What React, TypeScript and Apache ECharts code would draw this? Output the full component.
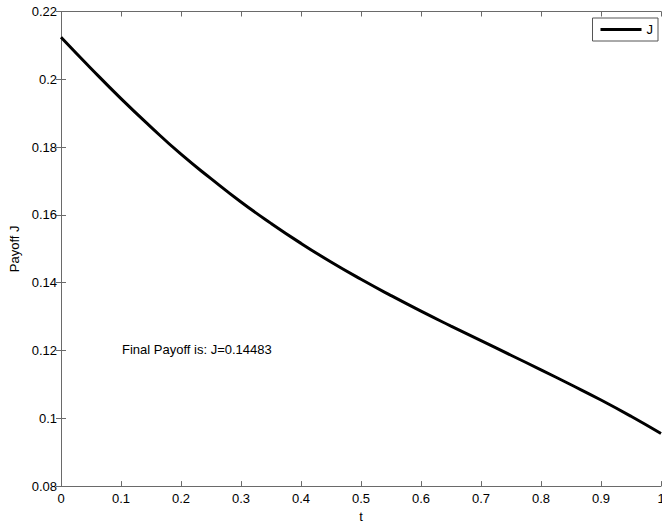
import React, { useEffect, useRef } from "react";
import * as echarts from "echarts";

const tValues = [0, 0.05, 0.1, 0.15, 0.2, 0.25, 0.3, 0.35, 0.4, 0.45, 0.5, 0.55, 0.6, 0.65, 0.7, 0.75, 0.8, 0.85, 0.9, 0.95, 1.0];
const jValues = [0.2124, 0.2032, 0.1943, 0.1859, 0.1779, 0.1707, 0.1638, 0.1575, 0.1516, 0.1461, 0.1410, 0.1362, 0.1316, 0.1272, 0.1229, 0.1186, 0.1143, 0.1099, 0.1054, 0.1006, 0.0955];
const seriesName = "J";
const annotation = "Final Payoff is: J=0.14483";
const xTitle = "t";
const yTitle = "Payoff J";

const FONT = "'Liberation Sans', Arial, Helvetica, sans-serif";
const AXIS = "#6a6a6a";

export default function App() {
  const ref = useRef<HTMLDivElement>(null);
  useEffect(() => {
    if (!ref.current) return;
    const chart = echarts.init(ref.current, null, { renderer: "svg" });
    const data = tValues.map((t, i) => [t, jValues[i]]);
    const commonAxisLine = { show: true, lineStyle: { color: AXIS, width: 1 } };
    const tickInside = { show: true, inside: true, length: 5, lineStyle: { color: AXIS } };
    chart.setOption({
      animation: false,
      backgroundColor: "#ffffff",
      textStyle: { fontFamily: FONT },
      grid: {
        left: 61,
        top: 11.5,
        width: 600,
        height: 474.6,
        containLabel: false,
        outerBoundsMode: "none",
      },
      legend: {
        data: [{ name: seriesName, icon: "rect" }],
        right: 4,
        top: 18,
        orient: "vertical",
        itemWidth: 41,
        itemHeight: 3,
        padding: [5, 5, 5, 8],
        borderColor: "#555",
        borderWidth: 1,
        backgroundColor: "#fff",
        textStyle: { fontFamily: FONT, fontSize: 13, color: "#000", lineHeight: 12 },
      },
      xAxis: [
        {
          type: "value",
          min: 0,
          max: 1,
          interval: 0.1,
          position: "bottom",
          name: xTitle,
          nameLocation: "middle",
          nameGap: 22,
          nameTextStyle: { fontFamily: FONT, fontSize: 13, color: "#000" },
          axisLine: commonAxisLine,
          axisTick: tickInside,
          splitLine: { show: false },
          axisLabel: {
            fontFamily: FONT,
            fontSize: 13,
            color: "#000",
            margin: 6,
            formatter: (v: number) => String(Math.round(v * 10) / 10),
          },
        },
        {
          type: "value",
          min: 0,
          max: 1,
          interval: 0.1,
          position: "top",
          axisLine: commonAxisLine,
          axisTick: tickInside,
          splitLine: { show: false },
          axisLabel: { show: false },
        },
      ],
      yAxis: [
        {
          type: "value",
          min: 0.08,
          max: 0.22,
          interval: 0.02,
          position: "left",
          name: yTitle,
          nameLocation: "middle",
          nameGap: 38,
          nameTextStyle: { fontFamily: FONT, fontSize: 13, color: "#000" },
          axisLine: commonAxisLine,
          axisTick: tickInside,
          splitLine: { show: false },
          axisLabel: {
            fontFamily: FONT,
            fontSize: 13,
            color: "#000",
            margin: 4,
            formatter: (v: number) => String(Math.round(v * 100) / 100),
          },
        },
        {
          type: "value",
          min: 0.08,
          max: 0.22,
          interval: 0.02,
          position: "right",
          axisLine: commonAxisLine,
          axisTick: tickInside,
          splitLine: { show: false },
          axisLabel: { show: false },
        },
      ],
      graphic: [
        {
          type: "text",
          left: 122,
          top: 343,
          style: { text: annotation, fontFamily: FONT, fontSize: 13, fill: "#000" },
          z: 10,
        },
      ],
      series: [
        {
          name: seriesName,
          type: "line",
          xAxisIndex: 0,
          yAxisIndex: 0,
          data,
          smooth: true,
          showSymbol: false,
          symbol: "none",
          lineStyle: { color: "#000", width: 3 },
          itemStyle: { color: "#000" },
        },
      ],
    });
    return () => chart.dispose();
  }, []);
  return (
    <div
      ref={ref}
      style={{ position: "fixed", left: 0, top: 0, width: 662, height: 523, background: "#fff" }}
    />
  );
}
